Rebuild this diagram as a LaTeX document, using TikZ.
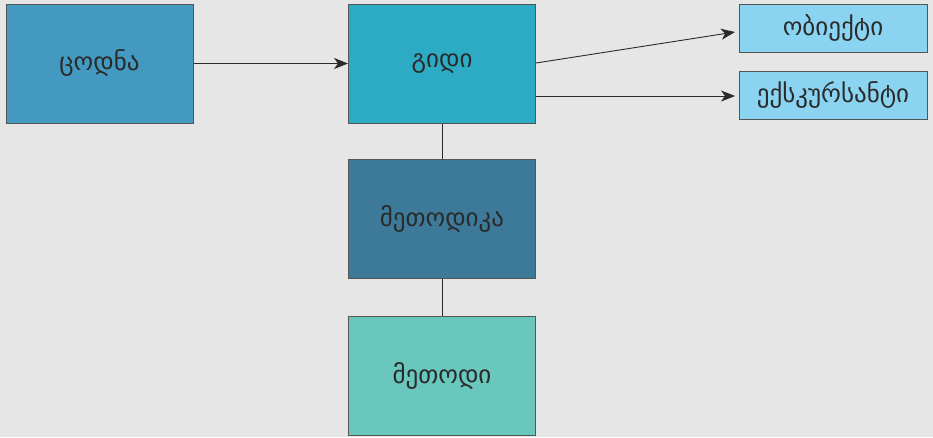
\documentclass[tikz,border=0pt]{standalone}
\usepackage{fontspec}
\newfontfamily\geo[Script=Georgian]{DejaVu Sans}
\usetikzlibrary{arrows.meta}
\definecolor{bg}{HTML}{E6E6E6}
\definecolor{cA}{HTML}{4399BF}
\definecolor{cB}{HTML}{2EABC4}
\definecolor{cC}{HTML}{3D7A9A}
\definecolor{cD}{HTML}{6AC7BD}
\definecolor{cE}{HTML}{8AD4F2}
\definecolor{bd}{HTML}{555555}
\definecolor{tx}{HTML}{2A2A2A}
\tikzset{
  box/.style={draw=bd, line width=1pt, text=tx, font=\geo\fontsize{25}{28}\selectfont, inner sep=0pt, anchor=center},
  big/.style={box, minimum width=187pt, minimum height=119pt},
  small/.style={box, minimum width=188pt, minimum height=48pt},
  conn/.style={draw=tx, line width=0.9pt},
  arr/.style={conn, -{Stealth[length=14pt,width=11pt,inset=4pt]}}
}
\begin{document}
\begin{tikzpicture}[x=1pt,y=-1pt]
\fill[bg] (0,0) rectangle (933,437);
\useasboundingbox (0,0) rectangle (933,437);
\node[big, fill=cA] (know) at (99.5,63.5) {ცოდნა};
\node[big, fill=cB] (guide) at (442,63.5) {გიდი};
\node[big, fill=cC] (methodics) at (442,219) {მეთოდიკა};
\node[big, fill=cD] (method) at (442,375.5) {მეთოდი};
\node[small, fill=cE] (object) at (833,28) {ობიექტი};
\node[small, fill=cE] (tourist) at (833,95.5) {ექსკურსანტი};
\coordinate (gA) at (536,63);
\coordinate (gB) at (536,96);
\coordinate (oIn) at (735,32);
\coordinate (tIn) at (735,96);
\draw[arr] (know.east) -- (guide.west);
\draw[arr] (gA) -- (oIn);
\draw[arr] (gB) -- (tIn);
\draw[conn] (guide.south) -- (methodics.north);
\draw[conn] (methodics.south) -- (method.north);
\end{tikzpicture}
\end{document}
